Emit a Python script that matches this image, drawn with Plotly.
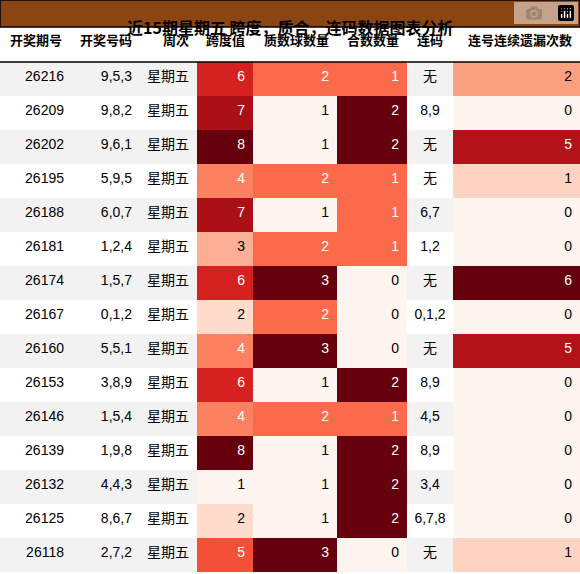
import plotly.graph_objects as go
from plotly.colors import sample_colorscale

issues = ["26216","26209","26202","26195","26188","26181","26174","26167","26160","26153","26146","26139","26132","26125","26118"]
numbers = ["9,5,3","9,8,2","9,6,1","5,9,5","6,0,7","1,2,4","1,5,7","0,1,2","5,5,1","3,8,9","1,5,4","1,9,8","4,4,3","8,6,7","2,7,2"]
weekday = ["星期五"]*15
span = [6,7,8,4,7,3,6,2,4,6,4,8,1,2,5]
primes = [2,1,1,2,1,2,3,2,3,1,2,1,1,1,3]
composite = [1,2,2,1,1,1,0,0,0,2,1,2,2,2,0]
consec = ["无","8,9","无","无","6,7","1,2","无","0,1,2","无","8,9","4,5","8,9","3,4","6,7,8","无"]
miss = [2,0,5,1,0,0,6,0,5,0,0,0,0,0,1]
headers = ["开奖期号","开奖号码","周次","跨度值","质数球数量","合数数量","连码","连号连续遗漏次数"]

plain = ["#f2f2f2" if i % 2 == 0 else "#ffffff" for i in range(15)]

def heat(vals):
    lo, hi = min(vals), max(vals)
    t = [(v - lo) / (hi - lo) for v in vals]
    fills = sample_colorscale("Reds", t)
    fonts = ["white" if x > 0.4 else "black" for x in t]
    return fills, fonts

hs, fs = heat(span)
hp, fp = heat(primes)
hc, fc = heat(composite)
hm, fm = heat(miss)
blk = ["black"]*15

FONT = "Liberation Sans, Noto Sans CJK SC"
title_h = 27
H = 574
fig = go.Figure(go.Table(
    columnwidth=[72,68,57,56,84,70,46,127],
    domain=dict(x=[0,1], y=[0, (H - title_h) / H]),
    header=dict(values=headers, height=35,
                align=["center","center","right","right","right","right","center","right"],
                fill_color="white", line=dict(width=0, color="white"),
                font=dict(family="Noto Sans CJK SC", size=13, color="black", weight="bold")),
    cells=dict(values=[issues, numbers, weekday, span, primes, composite, consec, miss],
               height=34,
               align=["right","right","right","right","right","right","center","right"],
               fill_color=[plain, plain, plain, hs, hp, hc, plain, hm],
               line=dict(width=0, color="white"),
               font=dict(family=FONT, size=14,
                         color=[blk, blk, blk, fs, fp, fc, blk, fm])),
))
fig.add_shape(type="rect", xref="paper", yref="paper", x0=0, x1=1,
              y0=(H - title_h) / H, y1=1, fillcolor="#8B4513",
              line=dict(color="black", width=1.5), layer="above")
fig.add_shape(type="line", xref="paper", yref="paper", x0=0, x1=1,
              y0=(H - 62) / H, y1=(H - 62) / H, line=dict(color="black", width=1.5))
fig.add_annotation(text="<b>近15期星期五 跨度，质合，连码数据图表分析</b>", xref="paper", yref="paper",
                   x=0.5, y=(H - title_h / 2) / H, showarrow=False,
                   font=dict(family="Noto Sans CJK SC", size=16, color="black"))
fig.update_layout(width=580, height=574, margin=dict(l=0, r=0, t=0, b=0),
                  paper_bgcolor="white")
fig.write_html("out.html",
               post_script="document.body.style.margin='0';document.body.style.overflow='hidden';")
